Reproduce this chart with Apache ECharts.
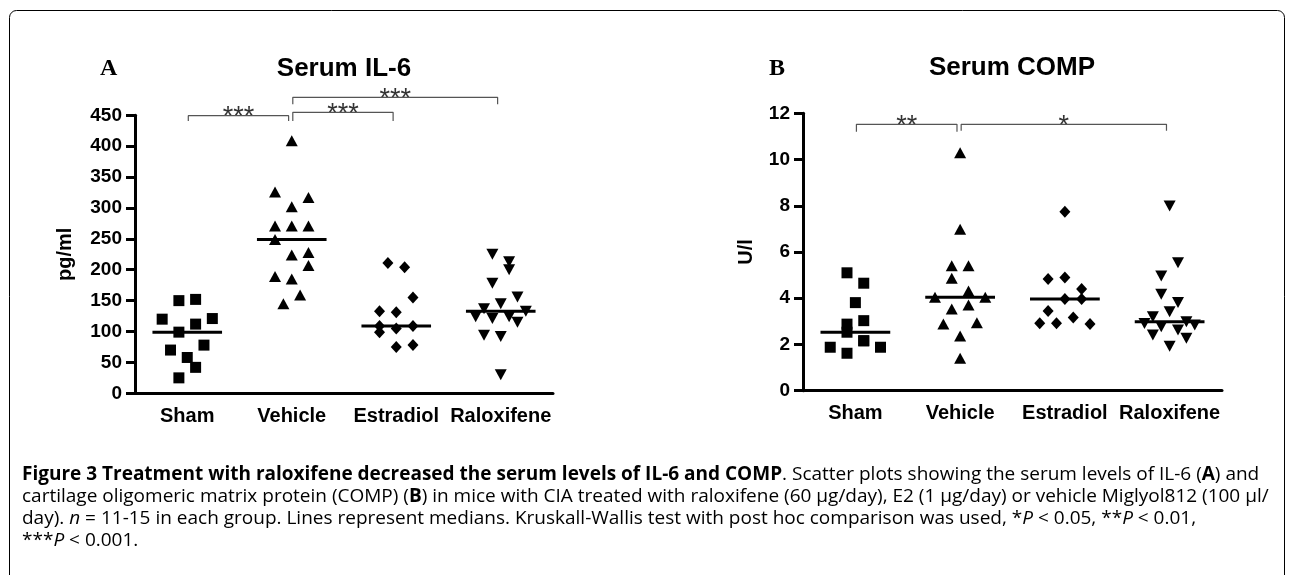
<!DOCTYPE html>
<html>
<head>
<meta charset="utf-8">
<title>Figure 3</title>
<script src="https://cdn.jsdelivr.net/npm/echarts@6.0.0/dist/echarts.min.js"></script>
<style>
  html, body { margin: 0; padding: 0; background: #fff; }
  #container { width: 1295px; height: 575px; }
</style>
</head>
<body>
<div id="container"></div>
<script>
// groups on the x axis
var groups = ['Sham', 'Vehicle', 'Estradiol', 'Raloxifene'];

// A: serum IL-6 (pg/ml)
var il6Sham       = [25, 42, 58, 70, 78, 99, 112, 120, 121, 150, 152];
var il6Vehicle    = [145, 159, 185, 189, 207, 224, 249, 228, 271, 271, 271, 302, 326, 317, 409];
var il6Estradiol  = [75, 99, 78, 105, 109, 109, 131, 133, 155, 211, 204];
var il6Raloxifene = [30, 92, 94, 115, 121, 124, 124, 133, 145, 137, 156, 178, 200, 225, 213];
var il6Ticks = [0, 450, 50];
var il6Brackets = [[0, 1, '***'], [1, 2, '***'], [1, 3, '***']];

// B: serum COMP (U/l)
var compSham       = [1.62, 2.16, 1.88, 1.88, 2.53, 2.16, 2.88, 3.03, 3.81, 5.10, 4.65];
var compVehicle    = [1.40, 2.37, 2.88, 2.94, 3.53, 3.71, 4.04, 4.04, 4.86, 4.31, 5.41, 5.41, 6.98, 10.29];
var compEstradiol  = [2.92, 3.17, 2.92, 2.88, 3.97, 3.45, 3.97, 4.90, 4.83, 4.40, 7.74];
var compRaloxifene = [1.92, 2.41, 2.27, 2.77, 2.63, 2.91, 2.84, 3.42, 3.20, 2.98, 4.17, 3.82, 4.96, 5.54, 7.99];
var compTicks = [0, 12, 2];
var compBrackets = [[0, 1, '**'], [1, 3, '*']];

var SANS = '"Liberation Sans", Arial, sans-serif';
var SERIF = '"Liberation Serif", "Times New Roman", serif';
var CAPTION_FONT = '"Open Sans", "Noto Sans", sans-serif';

// layout
var grids = [
  { left: 135, top: 115.3, width: 418, height: 278 },
  { left: 803, top: 113.3, width: 419, height: 277.4 }
];
var panels = [
  { name: 'pg/ml', nameGap: 60, ticks: il6Ticks, brackets: il6Brackets,
    sets: [il6Sham, il6Vehicle, il6Estradiol, il6Raloxifene],
    // [px above plot top, leg length px]
    bracketPx: [[-0.4, 5.3], [3, 8.7], [18, 7]] },
  { name: 'U/l', nameGap: 47, ticks: compTicks, brackets: compBrackets,
    sets: [compSham, compVehicle, compEstradiol, compRaloxifene],
    bracketPx: [[-11, 7.4], [-11, 6.4]] }
];
var symbols = [
  { symbol: 'rect', size: 11, rotate: 0 },
  { symbol: 'triangle', size: [12, 11], rotate: 0 },
  { symbol: 'diamond', size: [11, 12], rotate: 0 },
  { symbol: 'triangle', size: [12, 11], rotate: 180 }
];

// prism-like column scatter: points are grouped in rows, rows spread from the centre
var ROW_PX = 15.8, ROW_MAX = 4, SLOT = 0.08;
function swarm(values, pxPerUnit) {
  var order = values.map(function (v, i) { return i; })
    .sort(function (a, b) { return values[a] - values[b] || a - b; });
  var rows = [];
  order.forEach(function (i) {
    var row = rows[rows.length - 1];
    if (row && row.length < ROW_MAX && (values[i] - values[row[0]]) * pxPerUnit < ROW_PX) row.push(i);
    else rows.push([i]);
  });
  var off = [];
  rows.forEach(function (row) {
    var n = row.length, slots = [];
    for (var k = 0; k < n; k++) slots.push(k - (n - 1) / 2);
    slots.sort(function (a, b) { return Math.abs(a) - Math.abs(b) || a - b; });
    row.slice().sort(function (a, b) { return a - b; }).forEach(function (i, k) {
      off[i] = slots[k] * 2 * SLOT;
    });
  });
  return off;
}

function median(values) {
  var s = values.slice().sort(function (a, b) { return a - b; });
  var m = Math.floor(s.length / 2);
  return s.length % 2 ? s[m] : (s[m - 1] + s[m]) / 2;
}

var xAxes = [], yAxes = [], series = [];
panels.forEach(function (p, gi) {
  var pxPerUnit = grids[gi].height / (p.ticks[1] - p.ticks[0]);
  xAxes.push({
    type: 'category', gridIndex: gi, data: groups, boundaryGap: true,
    axisLine: { onZero: false, lineStyle: { color: '#000', width: 3 } },
    axisTick: { alignWithLabel: true, length: 9, lineStyle: { color: '#000', width: 3 } },
    axisLabel: { color: '#000', fontSize: 20, fontWeight: 'bold', fontFamily: SANS, margin: 13, interval: 0 },
    splitLine: { show: false }
  });
  xAxes.push({ type: 'value', gridIndex: gi, min: -0.5, max: 3.5, show: false,
    axisLine: { onZero: false } });
  yAxes.push({
    type: 'value', gridIndex: gi, min: p.ticks[0], max: p.ticks[1], interval: p.ticks[2],
    name: p.name, nameLocation: 'middle', nameGap: p.nameGap,
    nameTextStyle: { color: '#000', fontSize: 20, fontWeight: 'bold', fontFamily: SANS },
    axisLine: { show: true, onZero: false, lineStyle: { color: '#000', width: 3 } },
    axisTick: { show: true, length: 9, lineStyle: { color: '#000', width: 3 } },
    axisLabel: { color: '#000', fontSize: 19, fontWeight: 'bold', fontFamily: SANS, margin: 13 },
    splitLine: { show: false }
  });
  var xi = gi * 2 + 1;

  p.sets.forEach(function (values, k) {
    var off = swarm(values, pxPerUnit);
    series.push({
      type: 'scatter', xAxisIndex: xi, yAxisIndex: gi,
      symbol: symbols[k].symbol, symbolSize: symbols[k].size, symbolRotate: symbols[k].rotate,
      itemStyle: { color: '#000', opacity: 1 },
      data: values.map(function (v, i) { return [k + off[i], v]; })
    });
    var m = median(values);
    series.push({
      type: 'line', xAxisIndex: xi, yAxisIndex: gi, symbol: 'none', z: 3,
      lineStyle: { color: '#000', width: 3 },
      data: [[k - 0.333, m], [k + 0.333, m]]
    });
  });

  p.brackets.forEach(function (b, j) {
    var top = p.ticks[1] + p.bracketPx[j][0] / pxPerUnit;
    var leg = top - p.bracketPx[j][1] / pxPerUnit;
    var a = b[0] + 0.01, c = b[1] - 0.03;
    series.push({
      type: 'line', xAxisIndex: xi, yAxisIndex: gi, symbol: 'none', clip: false,
      lineStyle: { color: '#555', width: 1.2 },
      data: [[a, leg], [a, top], [c, top], [c, leg]]
    });
    series.push({
      type: 'scatter', xAxisIndex: xi, yAxisIndex: gi, clip: false,
      symbolSize: 1, itemStyle: { color: 'rgba(0,0,0,0)' },
      label: { show: true, position: 'inside', offset: [0, 2], formatter: b[2],
               color: '#000', fontSize: 27, fontFamily: SANS },
      data: [[(a + c) / 2, top]]
    });
  });
});

// caption
var captionLines = [
  '{b|Figure 3 Treatment with raloxifene decreased the serum levels of IL-6 and COMP}{r|. Scatter plots showing the serum levels of IL-6 (}{b|A}{r|) and}',
  '{r|cartilage oligomeric matrix protein (COMP) (}{b|B}{r|) in mice with CIA treated with raloxifene (60 \u00b5g/day), E2 (1 \u00b5g/day) or vehicle Miglyol812 (100 \u00b5l/}',
  '{r|day). }{i|n}{r| = 11-15 in each group. Lines represent medians. Kruskall-Wallis test with post hoc comparison was used, *}{i|P}{r| < 0.05, **}{i|P}{r| < 0.01,}',
  '{r|***}{i|P}{r| < 0.001.}'
];
var ctx = document.createElement('canvas').getContext('2d');
ctx.font = '16px ' + CAPTION_FONT;
var plain2 = captionLines[1].replace(/\{[a-z]\||\}/g, '');
var capSize = Math.round(16 * 1246 / ctx.measureText(plain2).width * 10) / 10;
var rich = {
  r: { fontSize: capSize, fontFamily: CAPTION_FONT, color: '#111' },
  b: { fontSize: capSize, fontFamily: CAPTION_FONT, fontWeight: 'bold', color: '#111' },
  i: { fontSize: capSize, fontFamily: CAPTION_FONT, fontStyle: 'italic', color: '#111' }
};

function label(text, x, y, size, family, weight) {
  return {
    type: 'text', x: x, y: y, silent: true,
    style: { text: text, fontSize: size, fontFamily: family, fontWeight: weight || 'bold', fill: '#000',
             align: 'center', verticalAlign: 'middle', textAlign: 'center', textVerticalAlign: 'middle' }
  };
}

var graphics = [
  { type: 'rect', silent: true, shape: { x: 9.5, y: 10.5, width: 1275, height: 640, r: 7 },
    style: { fill: 'none', stroke: '#000', lineWidth: 1 } },
  label('A', 108.7, 69, 24, SERIF),
  label('B', 777, 69, 24, SERIF),
  label('Serum IL-6', 344, 69, 26, SANS),
  label('Serum COMP', 1012, 68, 26, SANS)
];
[475, 497, 519, 541].forEach(function (y, i) {
  graphics.push({
    type: 'text', x: 22, y: y, silent: true,
    style: { text: captionLines[i], rich: rich, fontSize: capSize, fontFamily: CAPTION_FONT,
             align: 'left', verticalAlign: 'middle', textAlign: 'left', textVerticalAlign: 'middle' }
  });
});

var chart = echarts.init(document.getElementById('container'));
chart.setOption({
  animation: false,
  backgroundColor: '#fff',
  grid: grids,
  xAxis: xAxes,
  yAxis: yAxes,
  series: series,
  graphic: graphics
});
</script>
</body>
</html>
